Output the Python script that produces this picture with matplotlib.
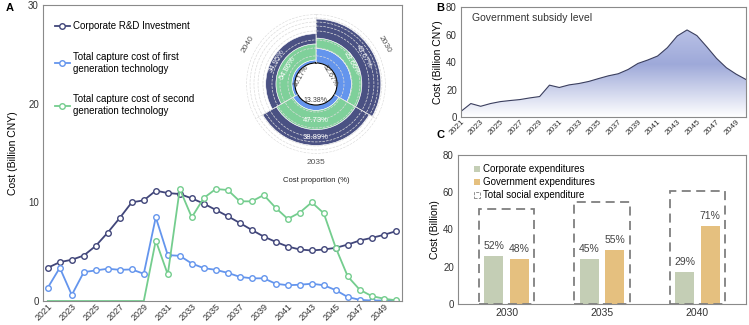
import numpy as np
import matplotlib.pyplot as plt
from matplotlib.colors import LinearSegmentedColormap
from matplotlib.patches import Patch

plt.rcParams['font.family'] = ['Liberation Sans', 'DejaVu Sans']

# ---------------- data ----------------
years = np.arange(2021, 2051)

rd_investment = [3.37, 3.94, 4.18, 4.61, 5.59, 6.94, 8.42, 10.0, 10.2, 11.18,
                 10.94, 10.84, 10.4, 9.87, 9.23, 8.59, 7.91, 7.2, 6.53, 5.99,
                 5.52, 5.22, 5.12, 5.22, 5.39, 5.72, 6.13, 6.4, 6.7, 7.07]
first_gen_cost = [1.35, 3.37, 0.61, 2.93, 3.1, 3.27, 3.16, 3.2, 2.76, 8.48,
                  4.65, 4.58, 3.8, 3.33, 3.16, 2.85, 2.45, 2.3, 2.3, 1.75,
                  1.6, 1.65, 1.75, 1.6, 1.1, 0.4, 0.12, 0.05, 0.05, 0.05]
second_gen_cost = [0, 0, 0, 0, 0, 0, 0, 0, 0, 6.13,
                   2.69, 11.35, 8.48, 10.44, 11.35, 11.25, 10.1, 10.1, 10.74, 9.43,
                   8.32, 8.96, 10.0, 8.89, 5.39, 2.49, 1.14, 0.5, 0.24, 0.07]

inset_years = [2030, 2035, 2040]
pct_first = ['32.67%', '13.38%', '10.17%']
pct_second = ['23.66%', '47.73%', '54.86%']
pct_rd = ['43.67%', '38.89%', '34.95%']

subsidy = [4.1, 9.8, 7.8, 9.8, 11.2, 12.0, 12.7, 13.9, 14.9, 23.2,
           21.5, 23.4, 24.4, 25.9, 28.0, 30.0, 31.5, 34.6, 39.0, 41.5,
           44.4, 50.5, 59.0, 63.4, 59.3, 51.2, 42.7, 35.9, 31.2, 27.3]

exp_years = ['2030', '2035', '2040']
corporate_exp = [25.9, 23.9, 17.1]
government_exp = [23.9, 29.1, 42.0]
total_exp = [50.9, 54.5, 60.7]
corporate_pct = ['52%', '45%', '29%']
government_pct = ['48%', '55%', '71%']

c_navy = '#41467a'
c_blue = '#6495ed'
c_green = '#74cd8e'
c_spine = '#8a8a8a'

fig = plt.figure(figsize=(7.49, 3.25), dpi=100)

def style_box(ax):
    for s in ax.spines.values():
        s.set_color(c_spine)
        s.set_linewidth(0.8)
    ax.tick_params(length=0, labelsize=7, colors='#333333', pad=3)

#----------------#
# Panel A
#----------------#
axA = fig.add_axes([0.0574, 0.0738, 0.479, 0.911])
mk = dict(marker='o', markersize=4, markerfacecolor='white', markeredgewidth=1.0, linewidth=1.3)
axA.plot(years, rd_investment, color=c_navy, label='Corporate R&D Investment', **mk)
axA.plot(years, first_gen_cost, color=c_blue,
         label='Total capture cost of first\ngeneration technology', **mk)
axA.plot(years, second_gen_cost, color=c_green, markevery=list(range(9, 30)),
         label='Total capture cost of second\ngeneration technology', **mk)
axA.set_xlim(2020.6, 2050.5)
axA.set_ylim(0, 30)
axA.set_yticks([0, 10, 20, 30])
axA.set_xticks(years[::2])
axA.set_xticklabels([str(y) for y in years[::2]], rotation=45, ha='right', rotation_mode='anchor')
style_box(axA)
axA.tick_params(axis='x', labelsize=6.5, pad=1)
axA.set_ylabel('Cost (Billion CNY)', fontsize=7.5, labelpad=7)
axA.legend(loc='upper left', bbox_to_anchor=(0.02, 0.962), frameon=False, fontsize=7,
           handlelength=1.5, handletextpad=0.3, labelspacing=2.15, borderpad=0)
fig.text(0.008, 0.975, 'A', fontsize=8, fontweight='bold', va='center')

# inset polar chart
pax = fig.add_axes([0.3284, 0.5262, 0.1869, 0.4308], projection='polar')
pax.set_theta_zero_location('N')
pax.set_theta_direction(-1)
hole = 12.4
rmax = 41.2
pax.set_rorigin(0)
pax.set_ylim(hole, rmax)
sel = [list(years).index(y) for y in inset_years]
mid_deg = np.array([60, 180, 300])
ang = np.deg2rad(mid_deg)
bottom = np.full(3, hole)
rings = [(first_gen_cost, c_blue, pct_first),
         (second_gen_cost, '#7fd09a', pct_second),
         (rd_investment, '#4a5183', pct_rd)]
for k, (series, col, pcts) in enumerate(rings):
    h = np.array([series[i] for i in sel])
    pax.bar(ang, h, width=2 * np.pi / 3, bottom=bottom, color=col,
            edgecolor='white', linewidth=0.4, zorder=1)
    for a, d, b, hh, p in zip(ang, mid_deg, bottom, h, pcts):
        rot = ((-d + 90) % 180) - 90
        if k == 0:
            pax.text(a, hole - 2.6, p, fontsize=5, color='#444444', rotation=rot,
                     ha='center', va='center', zorder=5)
        else:
            pax.text(a, b + hh / 2, p, fontsize=5.5, color='white', rotation=rot,
                     ha='center', va='center', zorder=5)
    bottom = bottom + h

pax.set_yticks([16.5, 21.2, 25.9, 31.2, 34.1, 36.5, 38.8, rmax - 0.3])
pax.set_yticklabels([])
pax.set_xticks(np.deg2rad([0, 120, 240]))
pax.set_xticklabels([])
pax.grid(True, color='#dcdcdc', linestyle='--', linewidth=0.5)
pax.set_axisbelow(False)
for s in pax.spines.values():
    s.set_visible(False)
for a, d, yr in zip(ang, mid_deg, inset_years):
    rot = ((-d + 90) % 180) - 90
    pax.text(a, 46.5, str(yr), fontsize=6, color='#555555', rotation=rot,
             ha='center', va='center')
pax.text(0.5, -0.19, 'Cost proportion (%)', transform=pax.transAxes, fontsize=5.5,
         color='#222222', ha='center', va='center')

#----------------#
# Panel B
#----------------#
axB = fig.add_axes([0.6155, 0.64, 0.3805, 0.338])
poly = axB.fill_between(years, subsidy, 0, facecolor='none', edgecolor='none')
cmap = LinearSegmentedColormap.from_list('sub', [(0, '#ffffff'), (0.6, '#9ea9d9'), (1, '#b9c1e6')])
grad = np.linspace(0, 1, 256).reshape(-1, 1)
im = axB.imshow(grad, extent=[years[0], years[-1], 0, max(subsidy)], origin='lower',
                aspect='auto', cmap=cmap, zorder=1)
im.set_clip_path(poly.get_paths()[0], transform=axB.transData)
axB.plot(years, subsidy, color='#3b3f5e', linewidth=0.8, zorder=2)
axB.set_xlim(2021, 2050)
axB.set_ylim(0, 80)
axB.set_yticks([0, 20, 40, 60, 80])
axB.set_xticks(years[::2])
axB.set_xticklabels([str(y) for y in years[::2]], rotation=45, ha='right', rotation_mode='anchor')
style_box(axB)
axB.tick_params(axis='x', labelsize=6, pad=1)
axB.set_ylabel('Cost (Billion CNY)', fontsize=7.5, labelpad=2)
axB.text(0.04, 0.87, 'Government subsidy level', transform=axB.transAxes, fontsize=7.5,
         color='#333333')
fig.text(0.583, 0.975, 'B', fontsize=8, fontweight='bold', va='center')

#----------------#
# Panel C
#----------------#
axC = fig.add_axes([0.6115, 0.0646, 0.3845, 0.4585])
x = np.arange(len(exp_years))
axC.bar(x - 0.135, corporate_exp, width=0.2, color='#c4ceb5', label='Corporate expenditures')
axC.bar(x + 0.135, government_exp, width=0.2, color='#e5c07f', label='Government expenditures')
axC.bar(x, total_exp, width=0.58, fill=False, edgecolor='#7f7f7f', linestyle=(0, (5, 3)),
        linewidth=1.3)
for xi, v, p in zip(x, corporate_exp, corporate_pct):
    axC.text(xi - 0.135, v + 5.5, p, ha='center', va='center', fontsize=7.5, color='#444444')
for xi, v, p in zip(x, government_exp, government_pct):
    axC.text(xi + 0.135, v + 5.5, p, ha='center', va='center', fontsize=7.5, color='#444444')
axC.set_xlim(-0.51, 2.51)
axC.set_ylim(0, 80)
axC.set_yticks([0, 20, 40, 60, 80])
axC.set_xticks(x)
axC.set_xticklabels(exp_years)
style_box(axC)
axC.tick_params(axis='x', labelsize=7.5)
axC.set_ylabel('Cost (Billion)', fontsize=7.5, labelpad=2)
handles = [Patch(facecolor='#c4ceb5', edgecolor='none'),
           Patch(facecolor='#e5c07f', edgecolor='none'),
           Patch(facecolor='none', edgecolor='#7f7f7f', linestyle='--', linewidth=0.6)]
axC.legend(handles, ['Corporate expenditures', 'Government expenditures', 'Total social expenditure'],
           loc='upper left', bbox_to_anchor=(0.04, 0.97), frameon=False, fontsize=7,
           handlelength=0.6, handleheight=0.6, handletextpad=0.3, labelspacing=0.3, borderpad=0)
fig.text(0.583, 0.585, 'C', fontsize=8, fontweight='bold', va='center')

fig.savefig('out.png', dpi=100)
